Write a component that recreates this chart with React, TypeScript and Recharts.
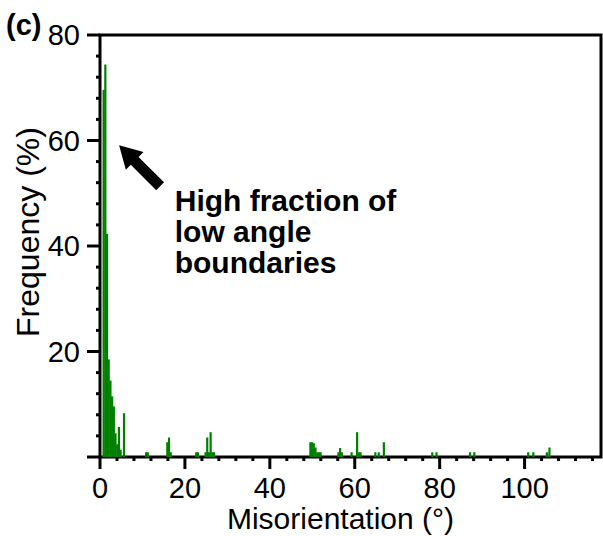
import React from 'react';
import { BarChart, Bar, XAxis, YAxis, ReferenceArea, ReferenceDot } from 'recharts';

// bin centres (degrees) and frequency (%)
const misorientation = [
  0.9, 1.3, 1.7, 2.1, 2.5, 2.9, 3.3, 3.7, 4.1, 4.5, 4.9, 5.7,
  10.9, 11.3,
  15.9, 16.3, 16.7,
  22.7, 23.1,
  24.9, 25.3, 25.7, 26.1, 26.5, 26.9,
  49.6, 50.0, 50.4, 50.8, 51.2, 51.6, 52.0,
  56.2, 56.6, 57.0,
  59.3,
  60.6, 61.0, 61.4,
  64.9, 65.7,
  66.9,
  78.3, 79.3,
  87.2, 88.2,
  100.9, 102.1,
  105.3, 105.9,
];
const frequency = [
  69.6, 74.4, 42.3, 18.5, 14.5, 11.5, 9.6, 4.5, 2.4, 5.7, 1.4, 8.3,
  0.9, 0.9,
  2.8, 3.7, 0.9,
  0.9, 0.9,
  0.9, 3.7, 0.9, 4.7, 0.9, 0.9,
  2.8, 2.8, 2.6, 1.8, 0.9, 0.9, 0.9,
  0.9, 1.7, 0.9,
  0.9,
  4.7, 0.9, 0.9,
  0.9, 0.9,
  2.8,
  0.9, 0.9,
  0.9, 0.9,
  0.9, 0.9,
  0.9, 1.8,
];

const xTicks = Array.from({ length: 30 }, (_, i) => i * 4); // minor every 4, major every 20
const yTicks = Array.from({ length: 21 }, (_, i) => i * 4);
const xLabelled = [0, 20, 40, 60, 80, 100];
const yLabelled = [20, 40, 60, 80];
const annotation = ['High fraction of', 'low angle', 'boundaries'];

const FONT = '"Liberation Sans", Arial, sans-serif';
const BAR_W = 2.2;

const data = misorientation.map((m, i) => ({ m, f: frequency[i] }));

// recharts caps the bar at 90% of the bin spacing, so widen it a touch around its centre
const BinBar = ({ x, y, width, height, fill }: any) => {
  if (!height) return <g />;
  return <rect x={x + width / 2 - BAR_W / 2} y={y} width={BAR_W} height={height} fill={fill} />;
};

const XTick = ({ x, y, payload }: any) => {
  const major = payload.value % 20 === 0;
  return (
    <g>
      <line x1={x} x2={x} y1={y} y2={y + (major ? 12 : 4)} stroke="#000" strokeWidth={3} />
      {xLabelled.includes(payload.value) && (
        <text x={x} y={y + 41} textAnchor="middle" fontSize={29} fontFamily={FONT} fill="#000">
          {payload.value}
        </text>
      )}
    </g>
  );
};

const YTick = ({ x, y, payload }: any) => {
  const major = payload.value % 20 === 0;
  return (
    <g>
      <line x1={x} x2={x - (major ? 13 : 4)} y1={y} y2={y} stroke="#000" strokeWidth={3} />
      {yLabelled.includes(payload.value) && (
        <text x={x - 20} y={y + 10} textAnchor="end" fontSize={29} fontFamily={FONT} fill="#000">
          {payload.value}
        </text>
      )}
    </g>
  );
};

const XTitle = ({ viewBox }: any) => (
  <text x={viewBox.x + viewBox.width / 2 - 10} y={viewBox.y + 72} textAnchor="middle" fontSize={30} fontFamily={FONT} fill="#000">
    Misorientation (°)
  </text>
);

const YTitle = ({ viewBox }: any) => {
  const cx = viewBox.x + 39;
  const cy = viewBox.y + viewBox.height / 2 - 14;
  return (
    <g>
      <text x={6} y={35} fontSize={29} fontWeight="bold" fontFamily={FONT} fill="#000">(c)</text>
      <text x={cx} y={cy} transform={`rotate(-90 ${cx} ${cy})`} textAnchor="middle" fontSize={32} fontFamily={FONT} fill="#000">
        Frequency (%)
      </text>
    </g>
  );
};

const ArrowShape = ({ cx, cy }: any) => (
  <polygon
    transform={`translate(${cx},${cy}) rotate(45)`}
    points="0,0 22,-12.5 22,-5.5 58,-5.5 58,5.5 22,5.5 22,12.5"
    fill="#000"
  />
);

const NoteShape = ({ cx, cy }: any) => (
  <text fontSize={30} fontWeight="bold" fontFamily={FONT} fill="#000">
    {annotation.map((line, i) => (
      <tspan key={line} x={cx} y={cy + i * 31}>{line}</tspan>
    ))}
  </text>
);

export default function App() {
  return (
    <div style={{ position: 'absolute', left: 0, top: 0, background: '#fff' }}>
      <BarChart width={603} height={536} data={data} margin={{ top: 35, right: 2, bottom: 0, left: 0 }}>
        <XAxis
          dataKey="m"
          type="number"
          domain={[0, 118]}
          ticks={xTicks}
          interval={0}
          tickSize={0}
          tickMargin={0}
          tickLine={false}
          tick={XTick}
          axisLine={false}
          height={79}
          allowDataOverflow
          label={{ content: XTitle } as any}
        />
        <YAxis
          type="number"
          domain={[0, 80]}
          ticks={yTicks}
          interval={0}
          tickSize={0}
          tickMargin={0}
          tickLine={false}
          tick={YTick}
          axisLine={false}
          width={100}
          allowDataOverflow
          label={{ content: YTitle } as any}
        />
        <Bar dataKey="f" fill="#008000" shape={BinBar} isAnimationActive={false} />
        <ReferenceArea x1={0} x2={118} y1={0} y2={80} fill="none" stroke="#000" strokeWidth={3} fillOpacity={0} ifOverflow="visible" />
        <ReferenceDot x={4.5} y={59.1} r={0} shape={ArrowShape} ifOverflow="visible" />
        <ReferenceDot x={17.6} y={46.6} r={0} shape={NoteShape} ifOverflow="visible" />
      </BarChart>
    </div>
  );
}
